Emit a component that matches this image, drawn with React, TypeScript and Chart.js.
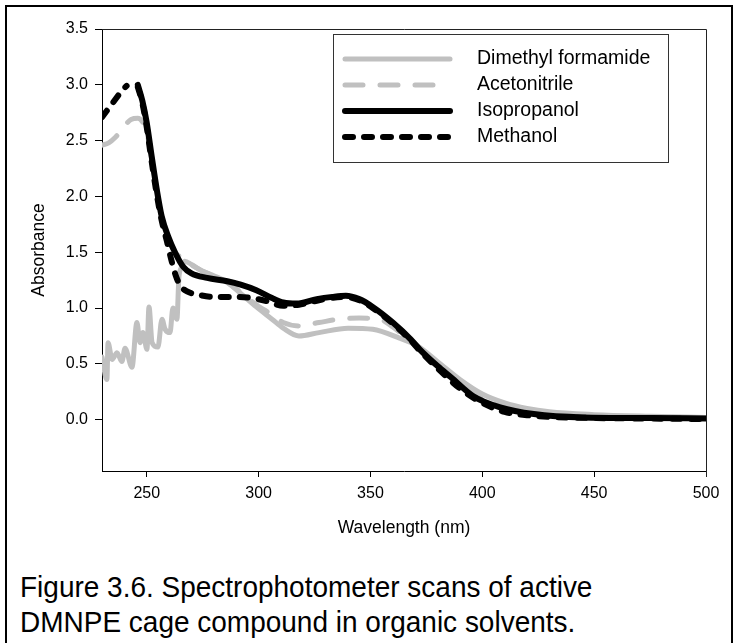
import React, { useEffect, useRef } from "react";
import { Chart, registerables } from "chart.js";

Chart.register(...registerables);

const FONT = '"Liberation Sans", Arial, Helvetica, sans-serif';

// ---- data ----
const seriesNames = ["Dimethyl formamide", "Acetonitrile", "Isopropanol", "Methanol"];

const xTicks = [250, 300, 350, 400, 450, 500];
const yTicks = [0, 0.5, 1.0, 1.5, 2.0, 2.5, 3.0, 3.5];

const dmfWavelength = [230, 232.2, 232.7, 234.5, 236.7, 238.9, 240.3, 243.4, 245.6, 247, 248.3, 250.1, 251, 252.4, 255, 256.8, 258.2, 260.4, 261.7, 263.5, 264.4, 265.8, 267, 270, 275, 280, 286, 292, 299, 306, 311, 318, 327, 340, 351, 363, 371, 380, 390, 400, 410, 420, 430, 450, 475, 500];
const dmfAbsorbance = [0.56, 0.36, 0.69, 0.54, 0.6, 0.52, 0.64, 0.47, 0.87, 0.69, 0.78, 0.63, 1.01, 0.69, 0.65, 0.9, 0.81, 0.78, 1.0, 0.9, 1.28, 1.37, 1.42, 1.39, 1.33, 1.29, 1.23, 1.13, 1.01, 0.9, 0.82, 0.75, 0.78, 0.82, 0.81, 0.73, 0.66, 0.52, 0.36, 0.23, 0.15, 0.1, 0.07, 0.045, 0.03, 0.02];

const acnWavelength = [230, 233, 236, 239, 243, 246, 248, 250, 252, 254.5, 256.7, 259.6, 262.5, 265, 269, 275, 280, 286, 292, 299, 306, 311, 318, 327, 336, 345, 354, 360, 368, 380, 390, 400, 410, 420, 430, 450, 475, 500];
const acnAbsorbance = [2.46, 2.48, 2.53, 2.6, 2.69, 2.7, 2.67, 2.58, 2.36, 2.06, 1.82, 1.64, 1.5, 1.46, 1.4, 1.33, 1.29, 1.23, 1.14, 1.03, 0.94, 0.87, 0.84, 0.87, 0.9, 0.91, 0.9, 0.83, 0.7, 0.5, 0.33, 0.2, 0.12, 0.08, 0.05, 0.03, 0.02, 0.015];

const ipaWavelength = [246, 248, 250, 252.2, 254.5, 256.7, 259.6, 262.6, 266.3, 270, 277, 286, 292, 299, 306, 311, 317, 326, 333, 339, 345, 351, 360, 368, 372, 380, 386, 396, 408, 423, 445, 475, 500];
const ipaAbsorbance = [3.0, 2.86, 2.66, 2.36, 2.06, 1.82, 1.64, 1.5, 1.37, 1.31, 1.27, 1.24, 1.21, 1.16, 1.09, 1.05, 1.04, 1.08, 1.1, 1.11, 1.08, 1.01, 0.87, 0.72, 0.63, 0.48, 0.38, 0.21, 0.11, 0.05, 0.02, 0.015, 0.01];

const meohWavelength = [230, 233, 236, 239, 241, 243, 246, 248, 250, 252, 254.3, 256.5, 259, 261, 263, 265, 268, 273, 280, 290, 297, 304, 311, 318, 327, 338, 345, 351, 360, 368, 372, 380, 390, 400, 410, 420, 430, 450, 475, 500];
const meohAbsorbance = [2.71, 2.79, 2.87, 2.95, 2.99, null, 2.98, 2.84, 2.62, 2.34, 2.04, 1.8, 1.6, 1.43, 1.29, 1.2, 1.15, 1.12, 1.1, 1.1, 1.09, 1.06, 1.02, 1.03, 1.07, 1.1, 1.07, 1.0, 0.86, 0.71, 0.62, 0.46, 0.28, 0.15, 0.07, 0.04, 0.025, 0.015, 0.01, 0.005];

const pts = (xs: number[], ys: (number | null)[]) => xs.map((x, i) => ({ x, y: ys[i] }));

const framePlugin = {
  id: "frame",
  afterDraw(chart: any) {
    const { ctx, chartArea } = chart;
    ctx.save();
    ctx.strokeStyle = "#222";
    ctx.lineWidth = 1;
    ctx.beginPath();
    ctx.moveTo(chartArea.left, chartArea.top + 0.5);
    ctx.lineTo(chartArea.right + 0.5, chartArea.top + 0.5);
    ctx.lineTo(chartArea.right + 0.5, chartArea.bottom + 6);
    ctx.stroke();
    ctx.restore();
  },
};

const legendOrder = [0, 1, 2, 3];

const legendPlugin = {
  id: "boxLegend",
  afterDraw(chart: any) {
    const ctx = chart.ctx;
    ctx.save();
    ctx.fillStyle = "#fff";
    ctx.fillRect(333, 34, 335, 128);
    ctx.strokeStyle = "#333";
    ctx.lineWidth = 1;
    ctx.strokeRect(333.5, 34.5, 335, 128);
    legendOrder.forEach((idx, i) => {
      const ds = chart.data.datasets[idx];
      const y = 59 + i * 26;
      ctx.beginPath();
      ctx.setLineDash(ds.borderDash || []);
      ctx.lineWidth = ds.borderWidth;
      ctx.strokeStyle = ds.borderColor;
      ctx.lineCap = "round";
      ctx.moveTo(345, y);
      ctx.lineTo(450, y);
      ctx.stroke();
      ctx.setLineDash([]);
      ctx.fillStyle = "#000";
      ctx.font = `19.5px ${FONT}`;
      ctx.textBaseline = "middle";
      ctx.textAlign = "left";
      ctx.fillText(ds.label, 477, y);
    });
    ctx.restore();
  },
};

export default function App() {
  const ref = useRef<HTMLCanvasElement>(null);
  useEffect(() => {
    if (!ref.current) return;
    const common = {
      fill: false,
      pointRadius: 0,
      pointHoverRadius: 0,
      cubicInterpolationMode: "monotone" as const,
      borderCapStyle: "round" as const,
      borderJoinStyle: "round" as const,
      spanGaps: false,
    };
    const chart = new Chart(ref.current, {
      type: "line",
      data: {
        datasets: [
          { ...common, label: seriesNames[0], data: pts(dmfWavelength, dmfAbsorbance), borderColor: "#c0c0c0", borderWidth: 5, order: 4 },
          { ...common, label: seriesNames[1], data: pts(acnWavelength, acnAbsorbance), borderColor: "#c0c0c0", borderWidth: 5, borderDash: [18, 17], order: 3 },
          { ...common, label: seriesNames[2], data: pts(ipaWavelength, ipaAbsorbance), borderColor: "#000", borderWidth: 6, order: 2 },
          { ...common, label: seriesNames[3], data: pts(meohWavelength, meohAbsorbance), borderColor: "#000", borderWidth: 6, borderDash: [8, 11], order: 1 },
        ] as any,
      },
      options: {
        animation: false,
        responsive: false,
        devicePixelRatio: 1,
        layout: { padding: { left: 0, top: 29, right: 27, bottom: 0 } },
        plugins: { legend: { display: false }, tooltip: { enabled: false } },
        scales: {
          x: {
            type: "linear",
            min: 230,
            max: 500,
            afterBuildTicks: (s: any) => { s.ticks = xTicks.map((v) => ({ value: v })); },
            afterFit: (s: any) => { s.height = 89; },
            grid: { drawOnChartArea: false, drawTicks: true, tickLength: 6, tickColor: "#000", tickWidth: 1 },
            border: { display: true, color: "#000", width: 1 },
            ticks: { color: "#000", font: { family: FONT, size: 16 }, padding: 7, maxRotation: 0, callback: (v: any) => String(v) },
            title: { display: true, text: "Wavelength (nm)", color: "#000", font: { family: FONT, size: 17.5 }, padding: { top: 0, bottom: 21 } },
          },
          y: {
            type: "linear",
            min: -0.46,
            max: 3.5,
            afterBuildTicks: (s: any) => { s.ticks = yTicks.map((v) => ({ value: v })); },
            afterFit: (s: any) => { s.width = 102; },
            grid: { drawOnChartArea: false, drawTicks: true, tickLength: 7, tickColor: "#000", tickWidth: 1 },
            border: { display: true, color: "#000", width: 1 },
            ticks: { color: "#000", font: { family: FONT, size: 16 }, padding: 7, callback: (v: any) => Number(v).toFixed(1) },
            title: { display: true, text: "Absorbance", color: "#000", font: { family: FONT, size: 17.5 }, padding: { top: 29, bottom: 0 } },
          },
        },
      } as any,
      plugins: [framePlugin, legendPlugin],
    });
    return () => chart.destroy();
  }, []);

  return (
    <div style={{ position: "fixed", left: 0, top: 0, width: 733, height: 643, background: "#fff", overflow: "hidden" }}>
      <div style={{ position: "absolute", left: 5, top: 5, width: 728, height: 700, border: "2px solid #000", boxSizing: "border-box" }} />
      <canvas ref={ref} width={733} height={560} style={{ position: "absolute", left: 0, top: 0, width: 733, height: 560 }} />
      <div
        style={{
          position: "absolute",
          left: 20,
          top: 570,
          fontFamily: FONT,
          fontSize: 29,
          lineHeight: "35px",
          color: "#000",
          whiteSpace: "nowrap",
          transform: "scaleX(0.965)",
          transformOrigin: "left top",
        }}
      >
        <div>Figure 3.6. Spectrophotometer scans of active</div>
        <div>DMNPE cage compound in organic solvents.</div>
      </div>
    </div>
  );
}
